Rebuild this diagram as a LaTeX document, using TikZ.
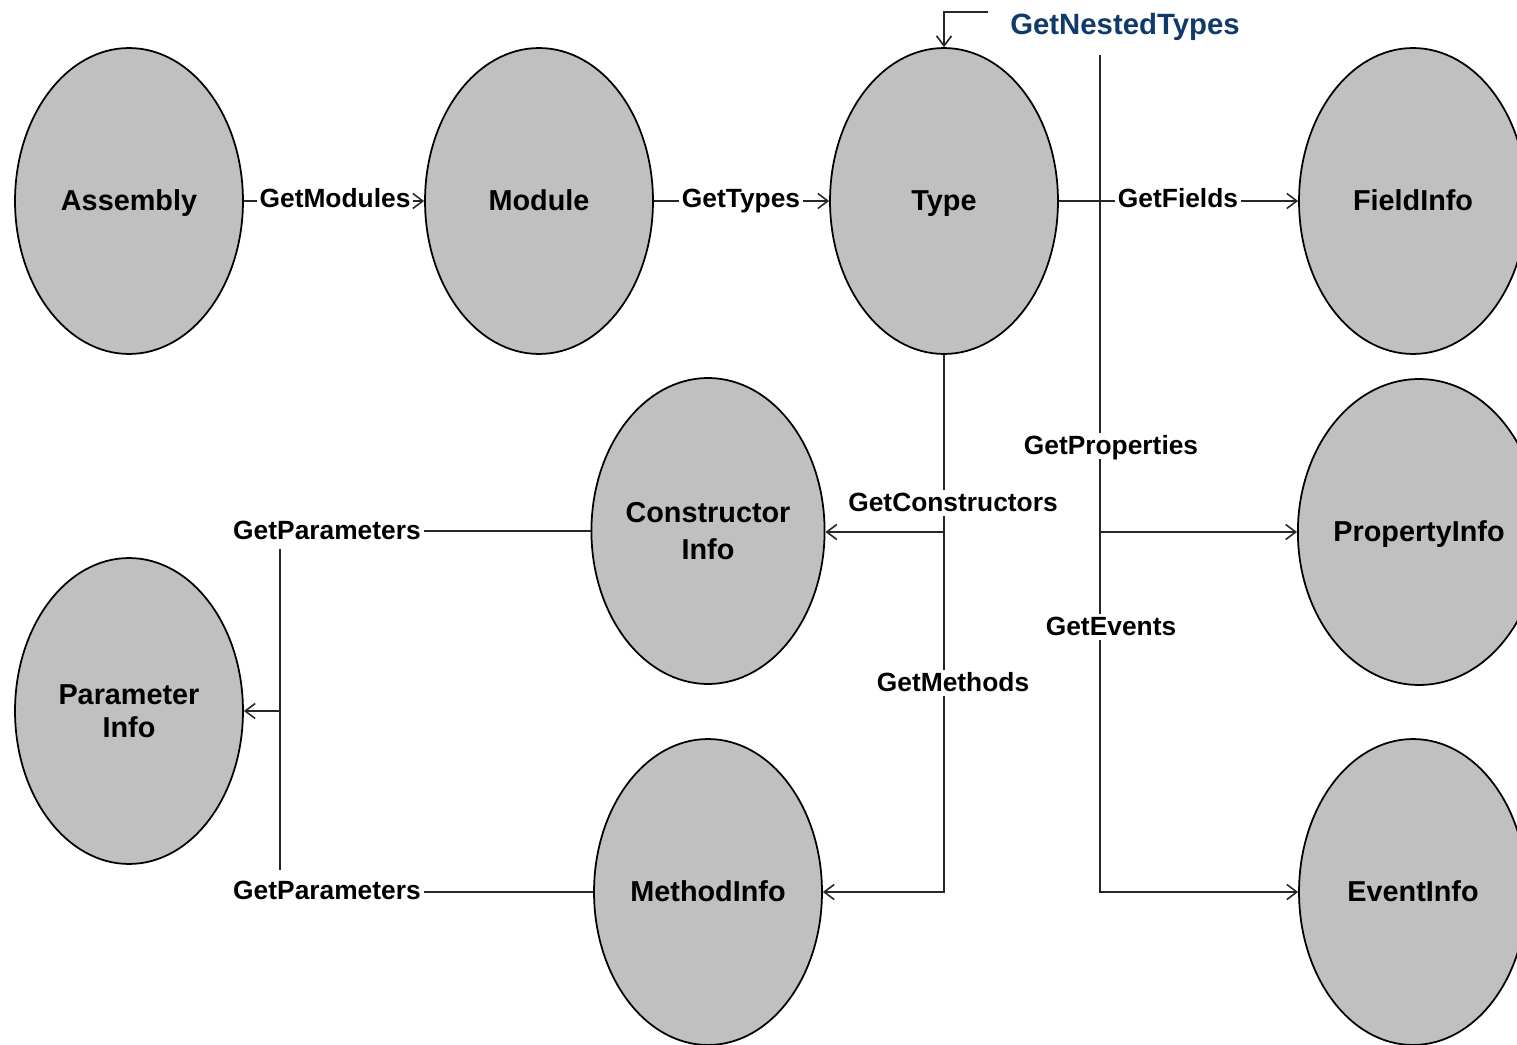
\documentclass[tikz,border=0pt]{standalone}
\usepackage{fontspec}
\setmainfont{Liberation Sans}
\usetikzlibrary{shapes.geometric,arrows.meta}
\definecolor{ellfill}{HTML}{C0C0C0}
\definecolor{navy}{HTML}{0F3A6A}
\begin{document}
\begin{tikzpicture}[x=0.02cm,y=-0.02cm,
  ell/.style={ellipse,draw=black,line width=1pt,fill=ellfill,minimum width=4.56cm,minimum height=6.12cm,inner sep=0pt,align=center,font=\fontsize{16.4}{20}\selectfont\bfseries},
  one/.style={text height=11.8pt,text depth=0.8pt},
  lbl/.style={fill=white,inner sep=1.5pt,text height=10.8pt,text depth=0.75pt,font=\fontsize{15}{18}\selectfont\bfseries},
  conn/.style={line width=0.9pt,draw=black!85},
  arr/.style={conn,-{Straight Barb[length=0.2cm,width=0.3cm,line width=0.9pt]}}]
\useasboundingbox (0,0) rectangle (1517,1044);
\clip (0,0) rectangle (1517,1044);
% ellipses
\node[ell,one] (asm) at (129,201) {Assembly};
\node[ell,one] (mod) at (539,201) {Module};
\node[ell,one] (typ) at (944,201) {Type};
\node[ell,one] (fld) at (1413,201) {FieldInfo};
\node[ell] (ctor) at (708,531) {Constructor\\[1.5pt]Info};
\node[ell,one] (prop) at (1419,532) {PropertyInfo};
\node[ell] (par) at (129,711) {Parameter\\[-1pt]Info};
\node[ell,one] (meth) at (708,892) {MethodInfo};
\node[ell,one] (evt) at (1413,892) {EventInfo};
% labels
\node[lbl] (lmod) at (335,199) {GetModules};
\node[lbl] (ltyp) at (741,199) {GetTypes};
\node[lbl] (lfld) at (1178,199) {GetFields};
\node[lbl] (lprop) at (1111,446) {GetProperties};
\node[lbl] (levt) at (1111,627) {GetEvents};
\node[lbl] (lctor) at (953,503) {GetConstructors};
\node[lbl] (lmeth) at (953,683) {GetMethods};
\node[lbl] (lpar1) at (327,531) {GetParameters};
\node[lbl] (lpar2) at (327,891) {GetParameters};
\node[inner sep=1.5pt,text=navy,text height=12pt,text depth=0.8pt,font=\fontsize{16.7}{20}\selectfont\bfseries] (lnest) at (1125,25) {GetNestedTypes};
% coordinates
\coordinate (n1) at (988,12);
\coordinate (n2) at (944,12);
\coordinate (t1) at (1100,55);
\coordinate (t2) at (1100,532);
\coordinate (t3) at (1100,892);
\coordinate (v2) at (944,532);
\coordinate (v3) at (944,892);
\coordinate (p0) at (280,549);
\coordinate (p1) at (280,711);
\coordinate (p2) at (280,870);
% connectors
\draw[conn] (asm.east) -- (lmod.west |- asm.east);
\draw[arr] (lmod.east |- mod.west) -- (mod.west);
\draw[conn] (mod.east) -- (ltyp.west |- mod.east);
\draw[arr] (ltyp.east |- typ.west) -- (typ.west);
\draw[conn] (typ.east) -- (lfld.west |- typ.east);
\draw[arr] (lfld.east |- fld.west) -- (fld.west);
\draw[arr] (n1) -- (n2) -- (typ.north);
\draw[conn] (t1) -- (t1 |- lprop.north);
\draw[conn] (t1 |- lprop.south) -- (t1 |- levt.north);
\draw[arr] (t1 |- levt.south) -- (t3) -- (evt.west);
\draw[arr] (t2) -- (prop.west);
\draw[conn] (typ.south) -- (typ.south |- lctor.north);
\draw[conn] (typ.south |- lctor.south) -- (typ.south |- lmeth.north);
\draw[arr] (typ.south |- lmeth.south) -- (v3) -- (meth.east);
\draw[arr] (v2) -- (ctor.east |- v2);
\draw[conn] (ctor.west |- lpar1.east) -- (lpar1.east);
\draw[conn] (meth.west) -- (lpar2.east |- meth.west);
\draw[conn] (p0) -- (p2);
\draw[arr] (p1) -- (par.east);
\end{tikzpicture}
\end{document}
